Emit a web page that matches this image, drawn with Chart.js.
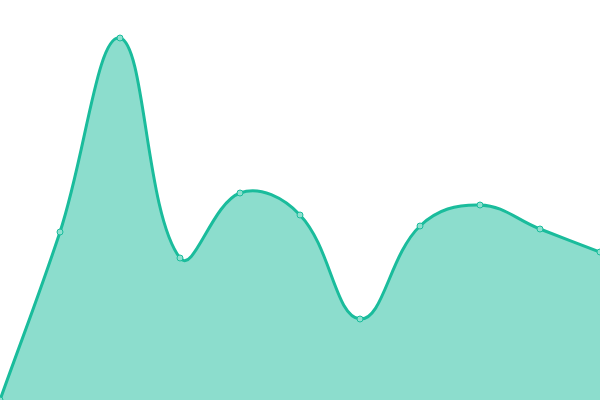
<!DOCTYPE html>
<html lang="en">
<head>
    <meta charset="UTF-8">
    <title>Area chart</title>
    <script src="https://cdn.jsdelivr.net/npm/chart.js"></script>
    <style>
        html, body { margin: 0; padding: 0; background: #fff; }
        #wrap { width: 600px; height: 400px; }
    </style>
</head>
<body>
    <div id="wrap">
        <canvas id="myChart" width="600" height="400"></canvas>
    </div>

    <script>
        // data (y axis 0..100)
        const labels = ['1', '2', '3', '4', '5', '6', '7', '8', '9', '10', '11'];
        const values = [0, 42, 90.5, 35.5, 51.75, 46.25, 20.25, 43.5, 48.75, 42.75, 37];

        const ctx = document.querySelector('#myChart').getContext('2d');

        new Chart(ctx, {
            type: 'line',
            data: {
                labels: labels,
                datasets: [{
                    data: values,
                    fill: 'origin',
                    backgroundColor: 'rgba(26,188,156,0.5)',
                    borderColor: '#1abc9c',
                    borderWidth: 3,
                    tension: 0.4,
                    pointRadius: 3,
                    pointBorderWidth: 1,
                    pointBackgroundColor: '#8ee0cf',
                    pointBorderColor: '#1abc9c'
                }]
            },
            options: {
                responsive: false,
                animation: false,
                layout: { padding: 0, autoPadding: false },
                plugins: {
                    legend: { display: false },
                    tooltip: { enabled: false }
                },
                scales: {
                    x: { display: false, offset: false },
                    y: { display: false, min: 0, max: 100 }
                }
            }
        });
    </script>
</body>
</html>
